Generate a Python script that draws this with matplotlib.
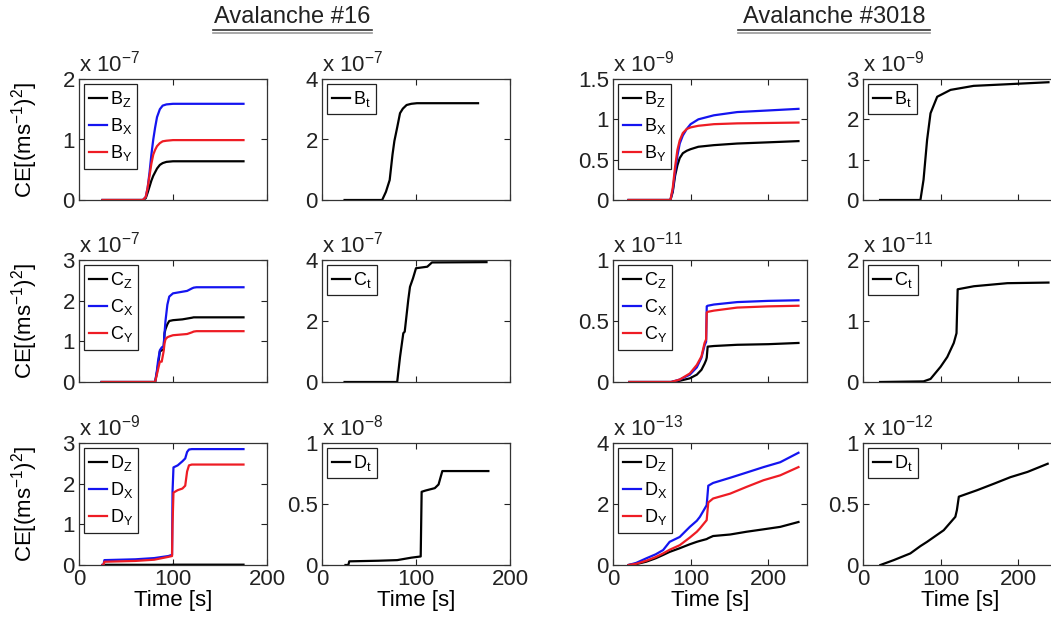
import matplotlib.pyplot as plt
from matplotlib.lines import Line2D
from matplotlib.ticker import FormatStrFormatter

plt.rcParams['font.family'] = ['Liberation Sans', 'DejaVu Sans']
plt.rcParams['mathtext.fontset'] = 'custom'
plt.rcParams['mathtext.rm'] = 'Liberation Sans'
plt.rcParams['mathtext.it'] = 'Liberation Sans:italic'

# ---- Avalanche #16 (B, C in 1e-7; D components in 1e-9, D_t in 1e-8) ----
t16_b = [25, 68, 71, 73, 75, 77, 79, 81, 83, 86, 89, 93, 100, 120, 175]
b16_z = [0, 0, 0.03, 0.12, 0.22, 0.32, 0.40, 0.46, 0.52, 0.58, 0.61, 0.63, 0.64, 0.64, 0.64]
b16_x = [0, 0, 0.05, 0.20, 0.45, 0.75, 1.00, 1.20, 1.37, 1.50, 1.56, 1.58, 1.59, 1.59, 1.59]
b16_y = [0, 0, 0.05, 0.20, 0.40, 0.60, 0.75, 0.83, 0.89, 0.94, 0.97, 0.98, 0.99, 0.99, 0.99]
t16_bt = [24, 64, 68, 72, 75, 77, 80, 83, 86, 90, 95, 101, 166]
b16_t = [0, 0, 0.27, 0.66, 1.50, 1.95, 2.40, 2.87, 3.02, 3.14, 3.18, 3.20, 3.20]

t16_c = [24, 81, 83, 84, 86, 88, 90, 91, 92, 94, 96, 100, 110, 115, 120, 122, 125, 175]
c16_z = [0, 0, 0.25, 0.40, 0.75, 0.78, 0.80, 1.20, 1.30, 1.42, 1.50, 1.52, 1.54, 1.56, 1.58, 1.59, 1.59, 1.59]
c16_x = [0, 0, 0.30, 0.50, 0.78, 0.85, 0.88, 1.20, 1.50, 1.90, 2.10, 2.18, 2.22, 2.24, 2.30, 2.32, 2.33, 2.33]
c16_y = [0, 0, 0.20, 0.30, 0.50, 0.50, 0.75, 0.95, 1.05, 1.10, 1.12, 1.15, 1.17, 1.18, 1.22, 1.24, 1.25, 1.25]
t16_ct = [24, 80, 83, 86.5, 88, 91.8, 93.6, 96.8, 100, 112, 117, 175]
c16_t = [0, 0, 0.82, 1.60, 1.65, 2.70, 3.12, 3.40, 3.73, 3.78, 3.92, 3.93]

t16_d = [25, 26, 27, 60, 80, 95, 99, 99.5, 100.5, 105, 110, 113, 115, 117, 120, 175]
d16_z = [0, 0, 0.005, 0.005, 0.005, 0.005, 0.005, 0.008, 0.008, 0.008, 0.008, 0.008, 0.008, 0.008, 0.008, 0.008]
d16_x = [0, 0, 0.12, 0.14, 0.17, 0.22, 0.25, 1.80, 2.40, 2.45, 2.55, 2.62, 2.78, 2.84, 2.85, 2.85]
d16_y = [0, 0, 0.08, 0.10, 0.13, 0.20, 0.22, 1.00, 1.78, 1.84, 1.88, 1.95, 2.30, 2.45, 2.47, 2.47]
t16_dt = [25, 28, 29, 60, 80, 95, 105, 106, 110, 120, 124, 128, 177]
d16_t = [0, 0, 0.03, 0.035, 0.04, 0.06, 0.07, 0.60, 0.61, 0.63, 0.66, 0.77, 0.77]

# ---- Avalanche #3018 (B in 1e-9, C in 1e-11, D components 1e-13, D_t 1e-12) ----
t3018_b = [20, 74, 77, 80, 83, 86, 90, 95, 100, 110, 130, 160, 200, 239]
b3018_z = [0, 0, 0.10, 0.30, 0.43, 0.52, 0.58, 0.61, 0.63, 0.66, 0.68, 0.70, 0.715, 0.73]
b3018_x = [0, 0, 0.12, 0.35, 0.55, 0.70, 0.80, 0.88, 0.94, 1.00, 1.05, 1.09, 1.11, 1.13]
b3018_y = [0, 0, 0.15, 0.41, 0.62, 0.74, 0.83, 0.88, 0.90, 0.92, 0.94, 0.95, 0.955, 0.96]
t3018_bt = [22, 74, 78, 82.6, 87, 95.6, 112.8, 142.6, 186, 239]
b3018_t = [0, 0, 0.50, 1.49, 2.15, 2.56, 2.73, 2.83, 2.87, 2.92]

t3018_c = [21, 75, 86, 99, 108, 114, 118, 120, 120.8, 122, 130, 160, 200, 239]
c3018_z = [0, 0, 0.01, 0.03, 0.06, 0.10, 0.15, 0.18, 0.20, 0.29, 0.295, 0.305, 0.31, 0.32]
c3018_x = [0, 0, 0.02, 0.06, 0.12, 0.20, 0.30, 0.33, 0.62, 0.625, 0.635, 0.655, 0.665, 0.67]
c3018_y = [0, 0, 0.02, 0.07, 0.14, 0.21, 0.32, 0.35, 0.57, 0.575, 0.585, 0.61, 0.62, 0.625]
t3018_ct = [22, 78, 87, 100, 108.6, 117, 120.5, 122, 143, 186, 239]
c3018_t = [0, 0.01, 0.05, 0.25, 0.41, 0.64, 0.80, 1.52, 1.57, 1.62, 1.63]

t3018_d = [20, 30, 43, 55, 64.6, 73, 86, 99, 108, 112, 120.7, 122.8, 129, 151, 172, 194, 215.5, 239]
d3018_z = [0, 0.03, 0.11, 0.22, 0.33, 0.43, 0.55, 0.68, 0.76, 0.79, 0.85, 0.88, 0.95, 1.00, 1.09, 1.17, 1.25, 1.41]
d3018_x = [0, 0.07, 0.22, 0.35, 0.49, 0.76, 0.92, 1.25, 1.45, 1.58, 1.96, 2.60, 2.69, 2.86, 3.03, 3.21, 3.37, 3.68]
d3018_y = [0, 0.04, 0.14, 0.26, 0.38, 0.50, 0.65, 0.90, 1.09, 1.20, 1.47, 2.05, 2.18, 2.34, 2.56, 2.78, 2.94, 3.21]
t3018_dt = [22.4, 39.6, 61, 74, 82.6, 104, 119, 121, 123.5, 147, 169, 190, 212, 238]
d3018_t = [0, 0.04, 0.095, 0.155, 0.19, 0.285, 0.395, 0.45, 0.56, 0.613, 0.667, 0.72, 0.763, 0.83]

BLUE = '#1414f0'
RED = '#ee1c24'
BLACK = 'black'

W, H = 1051, 626
fig = plt.figure(figsize=(W / 100, H / 100), dpi=100)
fig.patch.set_facecolor('white')

col_px = [(79, 267), (322, 510), (613, 807), (863, 1057)]
row_px = [(79, 200), (260, 382), (443, 565)]


def comp(letter, t, z, x, y):
    return [(t, z, BLACK, letter + r'$_{\mathregular{Z}}$'),
            (t, x, BLUE, letter + r'$_{\mathregular{X}}$'),
            (t, y, RED, letter + r'$_{\mathregular{Y}}$')]


def total(letter, t, v):
    return [(t, v, BLACK, letter + r'$_{\mathregular{t}}$')]


# (series, ymax, yticks, exponent, xmax) per row/column
panels = [
    [(comp('B', t16_b, b16_z, b16_x, b16_y), 2, [0, 1, 2], -7, 200),
     (total('B', t16_bt, b16_t), 4, [0, 2, 4], -7, 200),
     (comp('B', t3018_b, b3018_z, b3018_x, b3018_y), 1.5, [0, 0.5, 1, 1.5], -9, 250),
     (total('B', t3018_bt, b3018_t), 3, [0, 1, 2, 3], -9, 250)],
    [(comp('C', t16_c, c16_z, c16_x, c16_y), 3, [0, 1, 2, 3], -7, 200),
     (total('C', t16_ct, c16_t), 4, [0, 2, 4], -7, 200),
     (comp('C', t3018_c, c3018_z, c3018_x, c3018_y), 1, [0, 0.5, 1], -11, 250),
     (total('C', t3018_ct, c3018_t), 2, [0, 1, 2], -11, 250)],
    [(comp('D', t16_d, d16_z, d16_x, d16_y), 3, [0, 1, 2, 3], -9, 200),
     (total('D', t16_dt, d16_t), 1, [0, 0.5, 1], -8, 200),
     (comp('D', t3018_d, d3018_z, d3018_x, d3018_y), 4, [0, 2, 4], -13, 250),
     (total('D', t3018_dt, d3018_t), 1, [0, 0.5, 1], -12, 250)],
]

for r, (y0, y1) in enumerate(row_px):
    for c, (x0, x1) in enumerate(col_px):
        series, ymax, yticks, expo, xmax = panels[r][c]
        ax = fig.add_axes([x0 / W, 1 - y1 / H, (x1 - x0) / W, (y1 - y0) / H])
        for t, v, color, label in series:
            ax.plot(t, v, color=color, lw=1.6, label=label)
        ax.set_xlim(0, xmax)
        ax.set_ylim(0, ymax)
        ax.set_xticks([0, 100, 200])
        ax.set_yticks(yticks)
        ax.yaxis.set_major_formatter(FormatStrFormatter('%g'))
        ax.tick_params(direction='in', top=True, right=True, length=4,
                       width=0.8, labelsize=16, pad=3, colors='#222222')
        for sp in ax.spines.values():
            sp.set_color('#333333')
            sp.set_linewidth(0.9)
        if r < 2:
            ax.tick_params(labelbottom=False)
        else:
            ax.set_xlabel('Time [s]', fontsize=16, labelpad=0)
        if c == 0:
            ax.set_ylabel(r'CE[(ms$^{-1}$)$^{2}$]', fontsize=16)
            ax.yaxis.set_label_coords(-0.21, 0.5)
        ax.text(0, 1.02, r'x 10$^{%d}$' % expo, transform=ax.transAxes,
                fontsize=16, ha='left', va='bottom', color='#222222')
        leg = ax.legend(loc='upper left', fontsize=13, fancybox=False,
                        edgecolor='#222222', framealpha=1, handlelength=1.0,
                        handletextpad=0.15, borderpad=0.3, labelspacing=0.4,
                        borderaxespad=0.25)
        leg.get_frame().set_linewidth(0.9)

# underlined headings above each avalanche
for label, xc, xa, xb in [('Avalanche #16', 292, 213, 372),
                          ('Avalanche #3018', 834, 738, 930)]:
    fig.text(xc / W, 1 - 17 / H, label, ha='center', va='center',
             fontsize=17, color='#222222')
    fig.add_artist(Line2D([xa / W, xb / W], [1 - 29.5 / H] * 2,
                          color='#333333', lw=1.2))
    fig.add_artist(Line2D([xa / W, xb / W], [1 - 32.5 / H] * 2,
                          color='#999999', lw=1.2))

fig.savefig('out.png', dpi=100)
